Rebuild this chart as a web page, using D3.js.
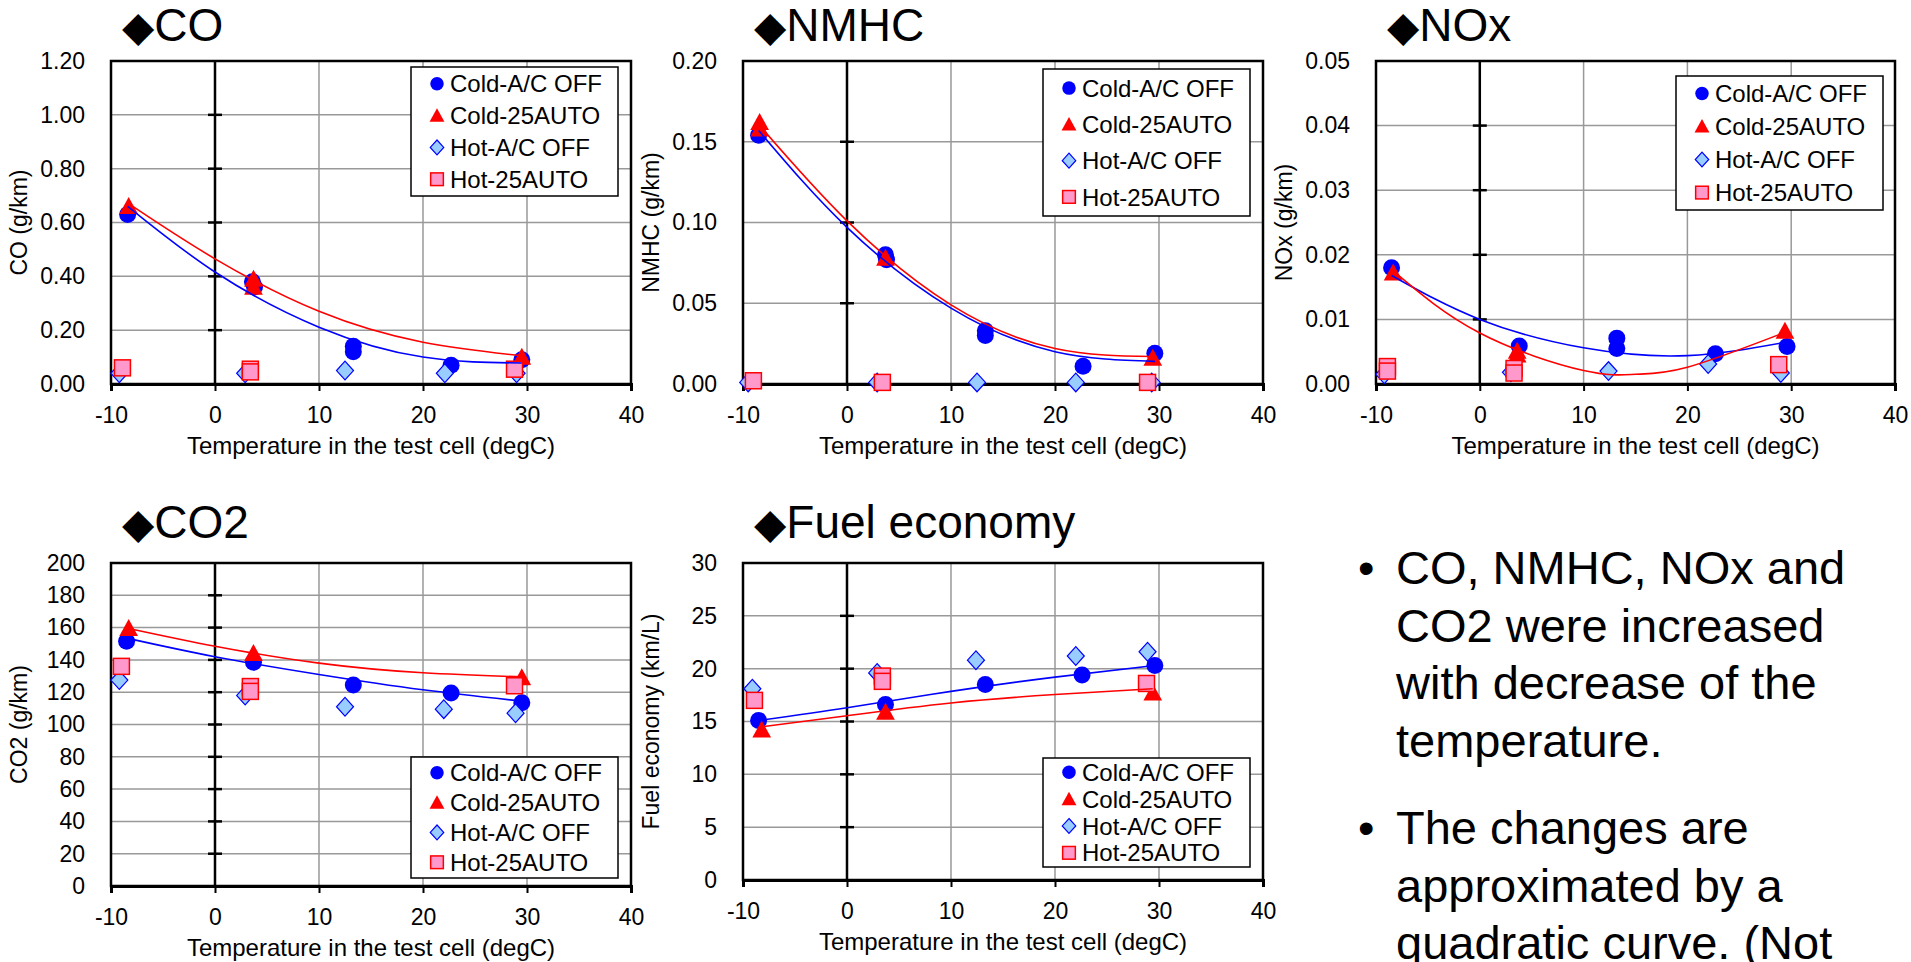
<!DOCTYPE html>
<html>
<head>
<meta charset="utf-8">
<script src="https://cdn.jsdelivr.net/npm/d3@7"></script>
<style>
  body { margin: 0; background: #fff; }
  text { font-family: "Liberation Sans", Arial, sans-serif; fill: #000; }
</style>
</head>
<body>
<div class="main"></div>
<script>
// shared axis values
const tempTicks = [-10, 0, 10, 20, 30, 40];
const seriesNames = ["Cold-A/C OFF", "Cold-25AUTO", "Hot-A/C OFF", "Hot-25AUTO"];
const xTitle = "Temperature in the test cell (degC)";

// CO (g/km)
const coTicks = [0, 0.2, 0.4, 0.6, 0.8, 1.0, 1.2];
const coColdOff = [[-8.4, 0.63], [3.6, 0.38], [3.8, 0.36], [13.3, 0.14], [13.3, 0.12], [22.7, 0.07], [29.5, 0.09]];
const coCold25 = [[-8.3, 0.66], [3.7, 0.39], [3.7, 0.36], [29.5, 0.10]];
const coHotOff = [[-9.2, 0.04], [2.9, 0.04], [12.5, 0.05], [22.1, 0.04], [29.0, 0.04]];
const coHot25 = [[-8.9, 0.06], [3.4, 0.055], [3.4, 0.045], [28.8, 0.055]];
const coFitColdOff = [[-8.4, 0.66], [0, 0.416], [10, 0.211], [20, 0.10], [29.5, 0.078]];
const coFitCold25 = [[-8.3, 0.67], [0, 0.465], [10, 0.27], [20, 0.155], [29.5, 0.105]];

// NMHC (g/km)
const nmhcTicks = [0, 0.05, 0.10, 0.15, 0.20];
const nmhcColdOff = [[-8.5, 0.154], [3.7, 0.080], [3.8, 0.077], [13.3, 0.033], [13.3, 0.030], [22.7, 0.011], [29.6, 0.019]];
const nmhcCold25 = [[-8.4, 0.162], [-8.4, 0.158], [3.7, 0.078], [29.4, 0.016]];
const nmhcHotOff = [[-9.5, 0.001], [2.9, 0.001], [12.5, 0.001], [22.0, 0.001], [29.3, 0.001]];
const nmhcHot25 = [[-9.0, 0.002], [3.4, 0.001], [28.9, 0.001]];
const nmhcFitColdOff = [[-8.5, 0.157], [0, 0.097], [10, 0.047], [20, 0.020], [29.6, 0.014]];
const nmhcFitCold25 = [[-8.4, 0.160], [0, 0.101], [10, 0.049], [20, 0.022], [29.4, 0.017]];

// NOx (g/km)
const noxTicks = [0, 0.01, 0.02, 0.03, 0.04, 0.05];
const noxColdOff = [[-8.5, 0.0180], [3.8, 0.0059], [13.2, 0.0071], [13.2, 0.0055], [22.7, 0.0047], [29.6, 0.0058]];
const noxCold25 = [[-8.35, 0.0172], [3.6, 0.0051], [3.6, 0.0045], [29.4, 0.0082]];
const noxHotOff = [[-9.2, 0.0015], [3.0, 0.0018], [12.4, 0.0020], [22.0, 0.0031], [29.0, 0.0017]];
const noxHot25 = [[-8.9, 0.0027], [-8.9, 0.0020], [3.3, 0.0024], [3.3, 0.0017], [28.8, 0.0030]];
const noxFitColdOff = [[-8.5, 0.0168], [0, 0.0100], [10, 0.0056], [20, 0.0044], [29.6, 0.0065]];
const noxFitCold25 = [[-8.35, 0.0175], [0, 0.0079], [10, 0.0021], [15, 0.0015], [20, 0.0026], [29.4, 0.0080]];

// CO2 (g/km)
const co2Ticks = [0, 20, 40, 60, 80, 100, 120, 140, 160, 180, 200];
const co2ColdOff = [[-8.5, 151.5], [3.7, 138.5], [13.3, 124.5], [22.7, 119.5], [29.5, 113.5]];
const co2Cold25 = [[-8.3, 159.5], [3.7, 144], [29.5, 129]];
const co2HotOff = [[-9.2, 127.5], [2.9, 118], [12.5, 111], [22.0, 109.5], [28.9, 107]];
const co2Hot25 = [[-9.0, 136], [3.4, 123.5], [3.4, 120.5], [28.8, 124]];
const co2FitColdOff = [[-8.5, 153.5], [0, 142], [10, 131], [20, 121.5], [29.5, 114.5]];
const co2FitCold25 = [[-8.3, 159.5], [0, 148.5], [10, 138], [20, 132], [29.5, 129.5]];

// Fuel economy (km/L)
const fuelTicks = [0, 5, 10, 15, 20, 25, 30];
const fuelColdOff = [[-8.5, 15.1], [3.7, 16.6], [13.3, 18.5], [22.6, 19.4], [29.6, 20.3]];
const fuelCold25 = [[-8.2, 14.2], [3.7, 15.9], [29.4, 17.7]];
const fuelHotOff = [[-9.1, 18.1], [2.9, 19.6], [12.4, 20.8], [22.0, 21.2], [28.9, 21.6]];
const fuelHot25 = [[-8.9, 17.0], [3.4, 19.3], [3.4, 18.8], [28.8, 18.6]];
const fuelFitColdOff = [[-8.5, 15.1], [0, 16.3], [10, 17.85], [20, 19.2], [29.6, 20.3]];
const fuelFitCold25 = [[-8.2, 14.5], [0, 15.55], [10, 16.75], [20, 17.55], [29.4, 18.1]];

// bullet text on the right
const bullets = [
  ["CO, NMHC, NOx and", "CO2 were increased", "with decrease of the", "temperature."],
  ["The changes are", "approximated by a", "quadratic curve. (Not"]
];

let width = 1911,
    height = 962;

let svg = d3.select("div.main").append("svg")
  .attr("width", width)
  .attr("height", height);

svg.append("rect")
  .attr("width", width)
  .attr("height", height)
  .attr("fill", "#fff");

// panel frames (pixels), title baseline and legend boxes
let panels = [
  { title: "CO", ylabel: "CO (g/km)", ticks: coTicks, fmt: ".2f",
    box: [111, 61, 631, 384], titleY: 41, legend: [67, 196],
    series: [coColdOff, coCold25, coHotOff, coHot25], fits: [coFitColdOff, coFitCold25] },
  { title: "NMHC", ylabel: "NMHC (g/km)", ticks: nmhcTicks, fmt: ".2f",
    box: [743, 61, 1263, 384], titleY: 41, legend: [69, 216],
    series: [nmhcColdOff, nmhcCold25, nmhcHotOff, nmhcHot25], fits: [nmhcFitColdOff, nmhcFitCold25] },
  { title: "NOx", ylabel: "NOx (g/km)", ticks: noxTicks, fmt: ".2f",
    box: [1376, 61, 1895, 384], titleY: 41, legend: [76, 210],
    series: [noxColdOff, noxCold25, noxHotOff, noxHot25], fits: [noxFitColdOff, noxFitCold25] },
  { title: "CO2", ylabel: "CO2 (g/km)", ticks: co2Ticks, fmt: "d",
    box: [111, 563, 631, 886], titleY: 538, legend: [757, 878],
    series: [co2ColdOff, co2Cold25, co2HotOff, co2Hot25], fits: [co2FitColdOff, co2FitCold25] },
  { title: "Fuel economy", ylabel: "Fuel economy (km/L)", ticks: fuelTicks, fmt: "d",
    box: [743, 563, 1263, 880], titleY: 538, legend: [758, 867],
    series: [fuelColdOff, fuelCold25, fuelHotOff, fuelHot25], fits: [fuelFitColdOff, fuelFitCold25] }
];

const blue = "#0000ff", red = "#ff0000";

// marker drawing: 0 circle, 1 triangle, 2 diamond, 3 square
function marker(g, kind, x, y, s) {
  if (kind == 0) {
    g.append("circle").attr("cx", x).attr("cy", y).attr("r", s * 0.5)
      .attr("fill", blue);
  } else if (kind == 1) {
    g.append("path")
      .attr("d", "M" + x + "," + (y - s * 0.55) + " L" + (x + s * 0.55) + "," + (y + s * 0.45) +
                 " L" + (x - s * 0.55) + "," + (y + s * 0.45) + " Z")
      .attr("fill", red);
  } else if (kind == 2) {
    g.append("path")
      .attr("d", "M" + x + "," + (y - s * 0.55) + " L" + (x + s * 0.5) + "," + y +
                 " L" + x + "," + (y + s * 0.55) + " L" + (x - s * 0.5) + "," + y + " Z")
      .attr("fill", "#99ccff").attr("stroke", blue).attr("stroke-width", 1.2);
  } else {
    g.append("rect").attr("x", x - s * 0.47).attr("y", y - s * 0.47)
      .attr("width", s * 0.94).attr("height", s * 0.94)
      .attr("fill", "#ff99cc").attr("stroke", red).attr("stroke-width", 1.5);
  }
}

panels.forEach(function(p) {
  let [x0, y0, x1, y1] = p.box;
  let g = svg.append("g");

  let x = d3.scaleLinear().domain([-10, 40]).range([x0, x1]);
  let y = d3.scaleLinear().domain([0, d3.max(p.ticks)]).range([y1, y0]);

  // grid
  g.selectAll(".hgrid").data(p.ticks.slice(1, -1)).enter().append("line")
    .attr("x1", x0).attr("x2", x1)
    .attr("y1", d => y(d)).attr("y2", d => y(d))
    .attr("stroke", "#999").attr("stroke-width", 1.5);
  g.selectAll(".vgrid").data([10, 20, 30]).enter().append("line")
    .attr("x1", d => x(d)).attr("x2", d => x(d))
    .attr("y1", y0).attr("y2", y1)
    .attr("stroke", "#999").attr("stroke-width", 1.5);

  // frame
  g.append("rect")
    .attr("x", x0).attr("y", y0)
    .attr("width", x1 - x0).attr("height", y1 - y0)
    .attr("fill", "none").attr("stroke", "#000").attr("stroke-width", 2.5);

  // vertical axis through 0 degC with cross ticks
  g.append("line")
    .attr("x1", x(0)).attr("x2", x(0)).attr("y1", y0).attr("y2", y1)
    .attr("stroke", "#000").attr("stroke-width", 2.5);
  g.selectAll(".ytick").data(p.ticks.slice(1, -1)).enter().append("line")
    .attr("x1", x(0) - 7).attr("x2", x(0) + 7)
    .attr("y1", d => y(d)).attr("y2", d => y(d))
    .attr("stroke", "#000").attr("stroke-width", 2.5);

  // bottom axis (plain hyphen for negatives, like the source)
  let xAxis = d3.axisBottom(x).tickValues(tempTicks).tickSize(7).tickFormat(d => String(d));
  let xg = g.append("g").attr("transform", "translate(0," + y1 + ")").call(xAxis);
  xg.select(".domain").attr("stroke", "#000").attr("stroke-width", 3);
  xg.selectAll(".tick line").attr("stroke", "#000").attr("stroke-width", 2);
  xg.selectAll(".tick text")
    .attr("y", 39).attr("dy", null)
    .attr("font-size", 23).attr("font-family", "Liberation Sans, Arial, sans-serif").attr("fill", "#000");

  // left labels
  let yAxis = d3.axisLeft(y).tickValues(p.ticks).tickSize(0).tickPadding(26)
    .tickFormat(d3.format(p.fmt));
  let yg = g.append("g").attr("transform", "translate(" + x0 + ",0)").call(yAxis);
  yg.select(".domain").remove();
  yg.selectAll(".tick text")
    .attr("font-size", 23).attr("font-family", "Liberation Sans, Arial, sans-serif").attr("fill", "#000");

  // axis titles
  g.append("text")
    .text(xTitle)
    .attr("x", (x0 + x1) / 2).attr("y", y1 + 70)
    .attr("text-anchor", "middle").attr("font-size", 24);
  g.append("text")
    .text(p.ylabel)
    .attr("transform", "translate(" + (x0 - 84) + "," + ((y0 + y1) / 2) + ")rotate(-90)")
    .attr("text-anchor", "middle").attr("font-size", 23);

  // chart title
  let t = g.append("text")
    .attr("x", x0 + 11).attr("y", p.titleY)
    .attr("font-size", 46);
  t.append("tspan").text("◆").attr("font-family", "DejaVu Sans").attr("font-size", 42);
  t.append("tspan").text(p.title);

  // points, later series on top
  let pg = g.append("g");
  p.series.forEach(function(s, k) {
    s.forEach(function(d) {
      marker(pg, k, x(d[0]), y(d[1]), 17);
    });
  });

  // quadratic trend curves
  let line = d3.line().x(d => x(d[0])).y(d => y(d[1])).curve(d3.curveNatural);
  p.fits.forEach(function(f, k) {
    g.append("path")
      .attr("d", line(f))
      .attr("fill", "none")
      .attr("stroke", k == 0 ? blue : red)
      .attr("stroke-width", 1.6);
  });

  // legend
  let lx = x0 + 300, lw = 207;
  let lt = p.legend[0], lh = p.legend[1] - p.legend[0];
  let pad = lh * 0.13, step = (lh - 2 * pad) / 3;
  g.append("rect")
    .attr("x", lx).attr("y", lt).attr("width", lw).attr("height", lh)
    .attr("fill", "#fff").attr("stroke", "#000").attr("stroke-width", 1.5);
  seriesNames.forEach(function(name, k) {
    let cy = lt + pad + k * step;
    marker(g, k, lx + 26, cy, 13.5);
    g.append("text")
      .text(name)
      .attr("x", lx + 39).attr("y", cy).attr("dy", "0.36em")
      .attr("font-size", 24);
  });
});

// bullet notes
let by = 584;
bullets.forEach(function(lines, i) {
  if (i > 0) by += 30;
  svg.append("text").text("•")
    .attr("x", 1358).attr("y", by).attr("font-size", 47);
  lines.forEach(function(l) {
    svg.append("text").text(l)
      .attr("x", 1396).attr("y", by).attr("font-size", 47);
    by += 57.5;
  });
});
</script>
</body>
</html>
